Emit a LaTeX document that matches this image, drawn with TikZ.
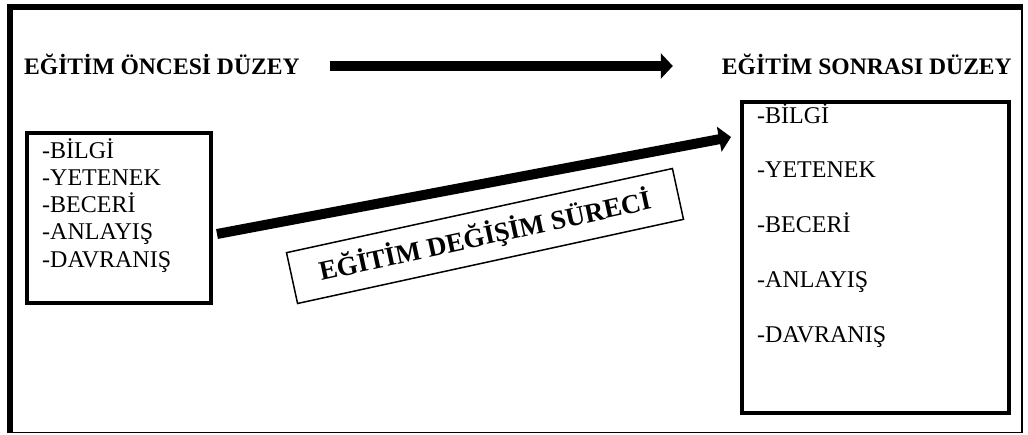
\documentclass[tikz,border=0pt]{standalone}
\usepackage{fontspec}
\setmainfont{Liberation Serif}
\usetikzlibrary{positioning,arrows.meta}
\tikzset{
  levelbox/.style={draw, line width=4pt, minimum width=184pt, minimum height=170pt, inner sep=0pt},
  itemtext/.style={font=\fontsize{24}{28}\selectfont, inner sep=0pt, anchor=base west},
  headtext/.style={font=\fontsize{23.6}{28}\selectfont\bfseries, inner sep=0pt, text height=16pt, text depth=0pt},
  flowarrow/.style={line width=10pt, -{Triangle[length=12pt, width=25pt]}},
  processbox/.style={draw, line width=1.5pt, minimum width=395pt, minimum height=52pt,
    font=\fontsize{27}{30}\selectfont\bfseries, inner sep=0pt},
}

\begin{document}
\begin{tikzpicture}[x=1pt, y=-1pt]
  \useasboundingbox (0,0) rectangle (1028,434);
  % outer frame
  \draw[line width=1.5pt] (10,432.5) -- (1022,432.5) -- (1022,7);
  \draw[line width=6pt] (10,433) -- (10,7) -- (1023,7);
  % headings
  \node[headtext, anchor=base west] (prehead) at (24,74) {EĞİTİM ÖNCESİ DÜZEY};
  \node[headtext, anchor=base east] (posthead) at (1012,74) {EĞİTİM SONRASI DÜZEY};
  \draw[flowarrow] ([xshift=30pt]prehead.east) -- ([xshift=-49pt]posthead.west);
  % levels
  \node[levelbox] (pre) at (119,218) {};
  \foreach \name [count=\i from 0] in {BİLGİ, YETENEK, BECERİ, ANLAYIŞ, DAVRANIŞ}
    \node[itemtext] (pre-\i) at (42,158+27.3*\i) {-\name};
  \node[levelbox, minimum width=267pt, minimum height=311pt] (post) at (875.5,257.5) {};
  \foreach \name [count=\i from 0] in {BİLGİ, YETENEK, BECERİ, ANLAYIŞ, DAVRANIŞ}
    \node[itemtext] (post-\i) at (757,123+54.75*\i) {-\name};
  % process
  \draw[flowarrow] ([xshift=4pt,yshift=-16pt]pre.east) -- ([xshift=-9pt,yshift=-37pt]post.north west);
  \node[processbox, rotate=12.3] (process) at (485,236) {EĞİTİM DEĞİŞİM SÜRECİ};
\end{tikzpicture}
\end{document}
